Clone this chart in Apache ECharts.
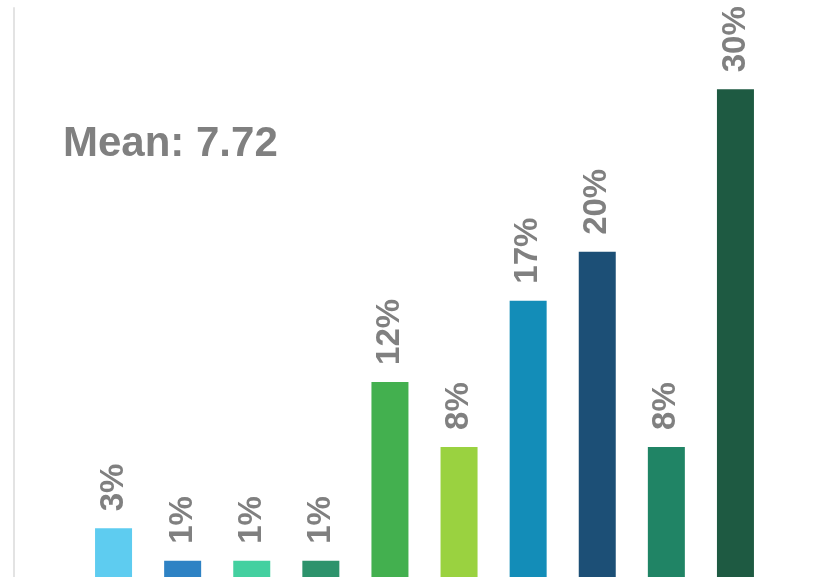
<!DOCTYPE html>
<html>
<head>
<meta charset="utf-8">
<script src="https://cdn.jsdelivr.net/npm/echarts@6/dist/echarts.min.js"></script>
<style>
html,body{margin:0;padding:0;background:#fff;}
#chart{width:828px;height:577px;}
</style>
</head>
<body>
<div id="chart"></div>
<script>
var categories = ['A','B','C','D','E','F','G','H','I','J'];
var values = [3, 1, 1, 1, 12, 8, 17, 20, 8, 30];
var barColors = ['#5ECCF0','#2E82C4','#44D0A0','#2D936C','#43B04F','#9AD240','#138DB8','#1C4F76','#208465','#1E5A42'];
var meanText = 'Mean: 7.72';

var chart = echarts.init(document.getElementById('chart'), null, {renderer:'canvas'});
chart.setOption({
  animation: false,
  grid: {left: 79, right: 58, top: 8, bottom: -1, containLabel: false},
  xAxis: {
    type: 'category',
    data: categories,
    axisLine: {show: false},
    axisTick: {show: false},
    axisLabel: {show: false}
  },
  yAxis: {
    type: 'value',
    min: 0, max: 35,
    offset: 65,
    splitLine: {show: false},
    axisTick: {show: false},
    axisLabel: {show: false},
    axisLine: {show: true, lineStyle: {color: '#e3e3e3', width: 2}}
  },
  graphic: [{
    type: 'text',
    left: 63,
    top: 123,
    style: {
      text: meanText,
      fill: '#808080',
      font: 'bold 42px "Liberation Sans", Arial, sans-serif'
    }
  }],
  series: [{
    type: 'bar',
    data: values.map(function(v, i){ return {value: v, itemStyle: {color: barColors[i]}}; }),
    barWidth: 37,
    label: {
      show: true,
      position: 'top',
      rotate: 90,
      align: 'left',
      verticalAlign: 'middle',
      distance: 17,
      formatter: '{c}%',
      color: '#808080',
      fontWeight: 'bold',
      fontSize: 33,
      fontFamily: '"Liberation Sans", Arial, sans-serif'
    }
  }]
});
</script>
</body>
</html>
